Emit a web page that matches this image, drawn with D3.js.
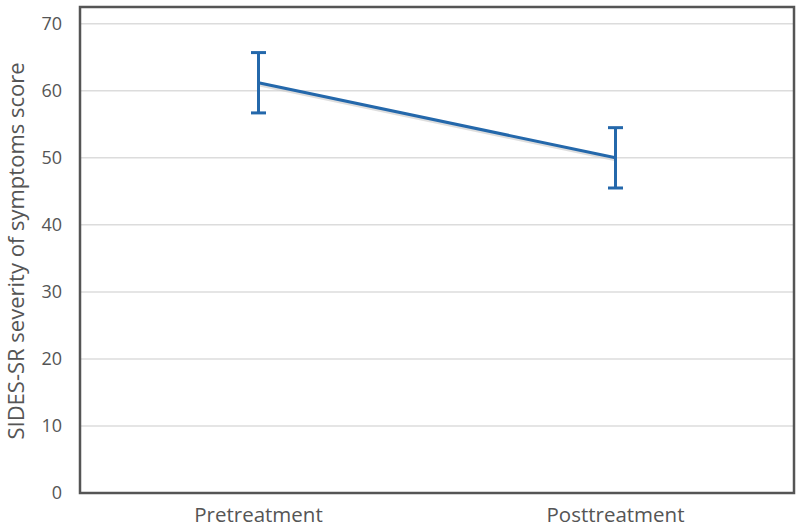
<!DOCTYPE html>
<html>
<head>
<meta charset="utf-8">
<script src="https://cdn.jsdelivr.net/npm/d3@7"></script>
<style>
  body { margin: 0; background: #fff; }
  text { font-family: "Open Sans", sans-serif; fill: #555; }
</style>
</head>
<body>
<script>
var phases = ["Pretreatment", "Posttreatment"];
var means = [61.2, 50.0];
var upper = [65.7, 54.5];
var lower = [56.7, 45.5];
var yTicks = [0, 10, 20, 30, 40, 50, 60, 70];

var fullwidth = 800, fullheight = 531;
var margin = {top: 7, right: 6, bottom: 38, left: 80};
var width = fullwidth - margin.left - margin.right,
    height = fullheight - margin.top - margin.bottom;

var data = phases.map(function(p, i) {
  return {phase: p, mean: means[i], hi: upper[i], lo: lower[i]};
});

var x = d3.scalePoint().domain(phases).range([0, width]).padding(0.5);
var y = d3.scaleLinear().domain([0, 72.5]).range([height, 0]);

var svg = d3.select("body").append("svg")
    .attr("width", fullwidth)
    .attr("height", fullheight)
  .append("g")
    .attr("transform", "translate(" + margin.left + "," + margin.top + ")");

// gridlines
svg.selectAll(".grid")
    .data(yTicks.filter(function(d) { return d > 0; }))
  .enter().append("line")
    .attr("x1", 0).attr("x2", width)
    .attr("y1", function(d) { return y(d); })
    .attr("y2", function(d) { return y(d); })
    .style("stroke", "#dcdcdc")
    .style("stroke-width", 1.5);

// y tick labels
svg.selectAll(".ytick")
    .data(yTicks)
  .enter().append("text")
    .attr("x", -18)
    .attr("y", function(d) { return y(d); })
    .attr("dy", "0.35em")
    .style("text-anchor", "end")
    .style("font-size", "18px")
    .text(function(d) { return d; });

// x labels
svg.selectAll(".xtick")
    .data(phases)
  .enter().append("text")
    .attr("x", function(d) { return x(d); })
    .attr("y", height + 29)
    .style("text-anchor", "middle")
    .style("font-size", "20.5px")
    .text(function(d) { return d; });

// y axis title
svg.append("text")
    .attr("transform", "rotate(-90)")
    .attr("x", -(251 - margin.top))
    .attr("y", -margin.left + 24)
    .style("text-anchor", "middle")
    .style("font-size", "22px")
    .text("SIDES-SR severity of symptoms score");

var line = d3.line()
    .x(function(d) { return x(d.phase); })
    .y(function(d) { return y(d.mean); });

// soft shadow under the line
svg.append("path")
    .datum(data)
    .attr("d", line)
    .attr("transform", "translate(0,2)")
    .style("fill", "none")
    .style("stroke", "#c8c8c8")
    .style("stroke-width", 3)
    .style("opacity", 0.6);

svg.append("path")
    .datum(data)
    .attr("d", line)
    .style("fill", "none")
    .style("stroke", "#2468ab")
    .style("stroke-width", 3);

// error bars
var err = svg.selectAll(".err")
    .data(data)
  .enter().append("g");

err.append("line")
    .attr("x1", function(d) { return x(d.phase); })
    .attr("x2", function(d) { return x(d.phase); })
    .attr("y1", function(d) { return y(d.hi); })
    .attr("y2", function(d) { return y(d.lo); })
    .style("stroke", "#2468ab")
    .style("stroke-width", 3);

["hi", "lo"].forEach(function(k) {
  err.append("line")
      .attr("x1", function(d) { return x(d.phase) - 7.5; })
      .attr("x2", function(d) { return x(d.phase) + 7.5; })
      .attr("y1", function(d) { return y(d[k]); })
      .attr("y2", function(d) { return y(d[k]); })
      .style("stroke", "#2468ab")
      .style("stroke-width", 3);
});

// frame
svg.append("rect")
    .attr("x", 0).attr("y", 0)
    .attr("width", width).attr("height", height)
    .style("fill", "none")
    .style("stroke", "#555")
    .style("stroke-width", 2.5);
</script>
</body>
</html>
